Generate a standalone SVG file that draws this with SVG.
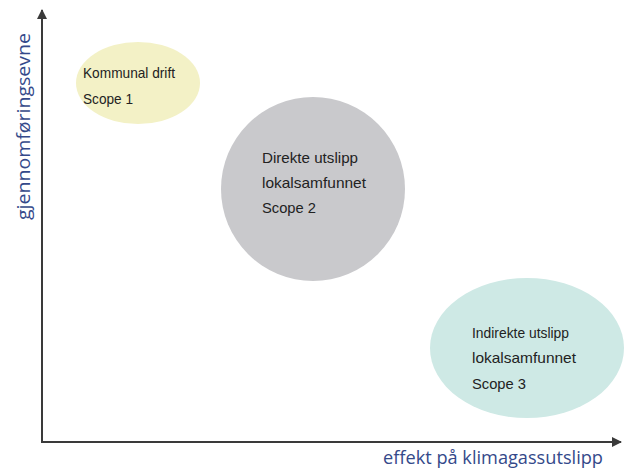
<svg xmlns="http://www.w3.org/2000/svg" width="624" height="468" viewBox="0 0 624 468">
<style>
.lbl{font-family:"Liberation Sans",Arial,sans-serif;font-size:15px;fill:#222}
.ax{font-family:"Open Sans","Noto Sans",sans-serif;font-size:18px;fill:#34498a}
.axis{stroke:#3a3a3a;stroke-width:2;fill:none}
</style>
<defs>
<marker id="ah" viewBox="0 0 10 10" refX="9" refY="5" markerWidth="5" markerHeight="5" markerUnits="strokeWidth" orient="auto">
<path d="M0,0 L10,5 L0,10 z" fill="#3a3a3a"/>
</marker>
</defs>
<rect width="624" height="468" fill="#fff"/>
<g id="connectors">
<line class="axis" x1="42" y1="442" x2="42" y2="10" marker-end="url(#ah)"/>
<line class="axis" x1="41" y1="442" x2="621" y2="442" marker-end="url(#ah)"/>
</g>
<g id="scope1">
<ellipse cx="138" cy="83" rx="62" ry="41" fill="#f3f1c6"/>
<text class="lbl" x="83" y="78" textLength="92" lengthAdjust="spacingAndGlyphs">Kommunal drift</text>
<text class="lbl" x="83" y="104" textLength="50" lengthAdjust="spacingAndGlyphs">Scope 1</text>
</g>
<g id="scope2">
<circle cx="313" cy="189" r="92" fill="#c9c9cc"/>
<text class="lbl" x="262" y="163" textLength="96" lengthAdjust="spacingAndGlyphs">Direkte utslipp</text>
<text class="lbl" x="262" y="188" textLength="104" lengthAdjust="spacingAndGlyphs">lokalsamfunnet</text>
<text class="lbl" x="262" y="213" textLength="54" lengthAdjust="spacingAndGlyphs">Scope 2</text>
</g>
<g id="scope3">
<ellipse cx="527" cy="348" rx="97" ry="70" fill="#cee9e5"/>
<text class="lbl" x="472" y="338" textLength="97" lengthAdjust="spacingAndGlyphs">Indirekte utslipp</text>
<text class="lbl" x="472" y="363" textLength="104" lengthAdjust="spacingAndGlyphs">lokalsamfunnet</text>
<text class="lbl" x="472" y="389" textLength="54" lengthAdjust="spacingAndGlyphs">Scope 3</text>
</g>
<g id="yaxis-label">
<text class="ax" transform="translate(30,220) rotate(-90)" x="0" y="0" textLength="187" lengthAdjust="spacingAndGlyphs">gjennomføringsevne</text>
</g>
<g id="xaxis-label">
<text class="ax" x="383" y="464" textLength="220" lengthAdjust="spacingAndGlyphs">effekt på klimagassutslipp</text>
</g>
</svg>
